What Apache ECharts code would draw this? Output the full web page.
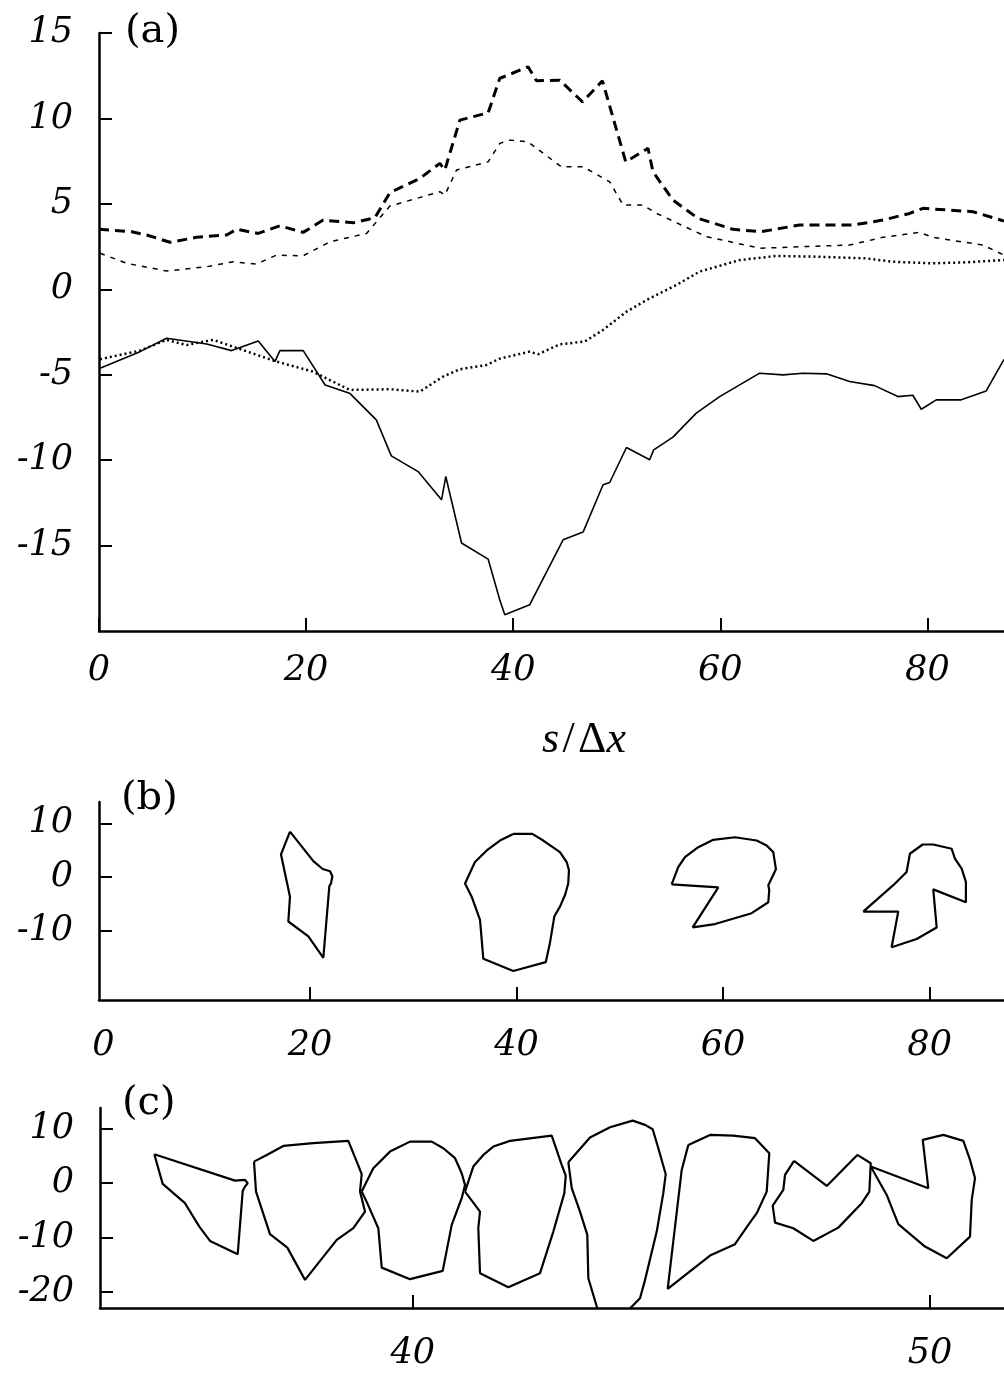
<!DOCTYPE html>
<html>
<head>
<meta charset="utf-8">
<script src="https://cdn.jsdelivr.net/npm/echarts@6/dist/echarts.min.js"></script>
<style>
html,body{margin:0;padding:0;background:#fff;}
#c{width:1004px;height:1375px;}
</style>
</head>
<body>
<div id="c"></div>
<script>
// ---------- Panel (a) data: [s/Δx, value] ----------
const heavyDashed = [[0,3.51],[3.16,3.37],[4.6,3.18],[6.85,2.75],[9.43,3.04],[12.33,3.18],[13.29,3.51],[15.38,3.27],[17.47,3.72],[19.72,3.33],[21.65,4.05],[24.55,3.89],[26.64,4.19],[28.09,5.65],[30.98,6.49],[32.92,7.37],[33.4,6.98],[34.85,9.9],[37.58,10.33],[38.7,12.34],[41.44,13.02],[42.25,12.2],[44.5,12.24],[46.69,10.97],[48.62,12.2],[50.87,7.46],[53.02,8.25],[53.5,6.88],[55.43,5.22],[57.85,4.15],[61.23,3.51],[63.97,3.37],[67.66,3.76],[72.81,3.76],[75.7,4.05],[78.28,4.44],[79.57,4.74],[84.4,4.54],[87.4,4.0]];
const thinDashed = [[0.1,2.11],[2.67,1.52],[6.53,1.07],[10.4,1.32],[12.96,1.61],[15.2,1.48],[17.14,2.0],[19.72,1.96],[22.3,2.78],[25.84,3.27],[28.09,4.87],[32.92,5.71],[33.4,5.51],[34.53,6.98],[37.58,7.46],[38.71,8.54],[39.67,8.73],[41.44,8.63],[42.25,8.25],[44.66,7.17],[46.75,7.17],[49.32,6.29],[50.61,4.93],[52.54,4.93],[53.84,4.44],[58.66,3.08],[63.87,2.4],[67.66,2.49],[72.49,2.59],[75.7,3.04],[79.25,3.33],[80.53,3.04],[85.36,2.59],[87.4,2.0]];
const dotted = [[0.1,-4.09],[3.96,-3.59],[6.53,-2.96],[8.46,-3.26],[11.03,-2.96],[12.96,-3.36],[17.14,-4.23],[20.68,-4.82],[24.2,-5.89],[28.09,-5.85],[30.98,-5.99],[33.23,-5.11],[34.85,-4.68],[37.42,-4.43],[38.7,-4.06],[41.6,-3.65],[42.4,-3.8],[44.5,-3.22],[46.9,-3.06],[48.68,-2.38],[50.94,-1.31],[52.87,-0.63],[55.76,0.25],[57.98,1.03],[61.87,1.71],[65.41,1.95],[69.27,1.91],[74.1,1.81],[76.67,1.61],[80.53,1.52],[83.75,1.58],[87.4,1.71]];
const solid = [[0.1,-4.62],[3.96,-3.65],[6.53,-2.87],[10.4,-3.2],[12.81,-3.59],[15.38,-3.02],[16.99,-4.23],[17.47,-3.59],[19.72,-3.59],[21.84,-5.6],[24.2,-6.08],[26.78,-7.64],[28.23,-9.75],[30.82,-10.67],[33.08,-12.32],[33.49,-10.96],[35.01,-14.85],[37.58,-15.79],[38.7,-18.17],[39.19,-19.05],[41.6,-18.46],[44.82,-14.66],[46.75,-14.21],[48.68,-11.44],[49.32,-11.31],[50.94,-9.26],[53.18,-9.98],[53.57,-9.4],[55.43,-8.65],[57.68,-7.25],[59.94,-6.28],[63.8,-4.91],[66.05,-5.01],[67.98,-4.91],[70.24,-4.95],[72.49,-5.4],[74.9,-5.64],[77.15,-6.28],[78.6,-6.2],[79.41,-7.02],[80.86,-6.47],[83.27,-6.47],[85.68,-5.95],[87.4,-4.1]];

// ---------- Panel (b) outlines ----------
const b1 = [[18.07,8.46],[20.33,2.96],[21.24,1.48],[21.95,1.06],[22.17,0.13],[22.04,-1.22],[21.88,-1.72],[21.3,-15.11],[19.85,-11.11],[17.91,-8.33],[18.07,-3.7],[17.2,4.2]];
const b2 = [[39.69,8.04],[41.53,8.04],[42.59,6.8],[44.21,4.63],[44.86,2.78],[45.08,1.24],[45.01,-1.22],[44.7,-3.39],[44.21,-5.56],[43.66,-7.41],[43.24,-12.33],[42.83,-15.93],[39.69,-17.59],[36.79,-15.3],[36.47,-8.02],[35.66,-3.7],[35.02,-1.22],[35.98,2.78],[37.12,4.94],[38.4,6.8]];
const b3 = [[55.02,-1.41],[59.54,-1.96],[57.06,-9.44],[59.22,-8.81],[62.77,-6.78],[64.38,-4.74],[64.47,-2.46],[64.38,-1.54],[65.12,1.43],[64.86,4.63],[64.22,5.87],[63.25,6.8],[61.15,7.41],[59.05,6.93],[57.6,5.56],[56.31,3.7],[55.66,1.85]];
const b4 = [[73.57,-6.48],[76.96,-6.48],[76.32,-13.15],[78.74,-11.59],[80.68,-9.44],[80.35,-2.33],[83.51,-4.74],[83.51,-0.93],[83.1,1.56],[82.45,3.41],[82.13,5.26],[80.35,6.06],[79.32,6.06],[78.09,4.33],[77.77,0.93],[76.48,-1.54]];

// ---------- Panel (c) outlines ----------
const c1 = [[35.005,5.32],[36.565,0.48],[36.758,0.61],[36.81,0],[36.758,-0.62],[36.714,-1.41],[36.617,-13.03],[36.082,-10.59],[35.875,-7.96],[35.598,-3.67],[35.167,-0.13]];
const c2 = [[36.932,3.96],[37.178,5.19],[37.499,6.84],[38.078,7.34],[38.755,7.76],[38.904,4.28],[39.014,1.65],[38.981,-1.54],[39.078,-5.21],[38.852,-8.26],[38.531,-10.4],[37.918,-17.74],[37.576,-11.82],[37.241,-9.36],[36.971,-1.54]];
const c3 = [[39.014,-1.54],[39.238,2.75],[39.561,5.8],[39.948,7.63],[40.367,7.63],[40.592,6.42],[40.818,4.59],[40.947,1.83],[41.011,-0.31],[40.947,-2.75],[40.754,-7.65],[40.58,-16.09],[39.948,-17.61],[39.401,-15.49],[39.335,-8.26],[39.111,-3.43]];
const c4 = [[41.011,-1.54],[41.171,3.05],[41.365,5.19],[41.558,6.72],[41.881,7.76],[42.687,8.73],[42.88,3.36],[42.958,1.39],[42.931,-1.83],[42.718,-8.88],[42.461,-16.51],[41.848,-19.08],[41.301,-16.51],[41.268,-8.26],[41.301,-5.21]];
const c5 = [[43.008,3.85],[43.427,8.37],[43.814,10.28],[44.253,11.49],[44.491,10.7],[44.639,9.91],[44.748,6.42],[44.891,1.65],[44.844,-1.83],[44.717,-8.88],[44.491,-17.74],[44.394,-21.1],[44.137,-23.6],[43.588,-23.6],[43.395,-17.43],[43.375,-9.49],[43.234,-5.21],[43.074,-0.92]];
const c6 = [[45.328,7.03],[45.747,8.86],[46.198,8.73],[46.617,8.26],[46.893,5.5],[46.843,-1.54],[46.65,-5.5],[46.487,-7.65],[46.23,-11.19],[45.747,-13.28],[44.929,-19.39],[45.2,2.44]];
const c7 = [[47.371,4.09],[48.003,-0.5],[48.595,5.19],[48.854,3.67],[48.827,-1.54],[48.68,-3.67],[48.227,-8.15],[47.744,-10.59],[47.357,-8.26],[47.004,-7.23],[46.959,-4.11],[47.164,-1.23],[47.197,1.52]];
const c8 = [[48.854,3.05],[49.967,-0.92],[49.859,7.94],[50.257,8.86],[50.644,7.76],[50.773,4.28],[50.87,0.92],[50.806,-3.06],[50.773,-9.8],[50.323,-13.76],[49.903,-11.63],[49.387,-7.52],[49.163,-2.15]];

// ---------- Tick labels ----------
const aYTicks = [-15,-10,-5,0,5,10,15];
const aXTicks = [0,20,40,60,80];
const bYTicks = [-10,0,10];
const bXTicks = [0,20,40,60,80];
const bXTickMarks = [20,40,60,80];
const cYTicks = [-20,-10,0,10];
const cXTicks = [40,50];

const closeLoop = pts => pts.concat([pts[0]]);

const labelFont = {fontFamily:'DejaVu Serif', fontStyle:'italic', fontSize:35, color:'#000'};
const axLine = {show:true, onZero:false, lineStyle:{color:'#000', width:2.5}};

function xAx(gi, min, max, labels, marks, margin){
  return {type:'value', gridIndex:gi, min:min, max:max,
    axisLine:axLine,
    axisTick:{show:true, inside:true, length:13, lineStyle:{color:'#000', width:2}, customValues:marks},
    axisLabel:Object.assign({margin:margin, customValues:labels}, labelFont),
    splitLine:{show:false}};
}
function yAx(gi, min, max, ticks){
  return {type:'value', gridIndex:gi, min:min, max:max,
    axisLine:axLine,
    axisTick:{show:true, inside:true, length:13, lineStyle:{color:'#000', width:2}, customValues:ticks},
    axisLabel:Object.assign({margin:26, customValues:ticks}, labelFont),
    splitLine:{show:false}};
}
function outline(data, xi){
  return {type:'line', xAxisIndex:xi, yAxisIndex:xi, data:closeLoop(data), showSymbol:false, symbol:'none',
    lineStyle:{color:'#000', width:2.2}, clip:true, animation:false, silent:true};
}

const chart = echarts.init(document.getElementById('c'), null, {renderer:'canvas'});
chart.setOption({
  backgroundColor:'#fff',
  animation:false,
  grid:[
    {left:99, top:33, right:0, height:598},
    {left:99, top:802, right:0, height:198},
    {left:100, top:1108, right:0, height:200}
  ],
  xAxis:[
    xAx(0, 0, 87.4, aXTicks, aXTicks, 22),
    xAx(1, -0.42, 87.2, bXTicks, bXTickMarks, 28),
    xAx(2, 33.955, 51.43, cXTicks, cXTicks, 28)
  ],
  yAxis:[
    yAx(0, -20, 15, aYTicks),
    yAx(1, -23, 14, bYTicks),
    yAx(2, -22.9, 13.8, cYTicks)
  ],
  series:[
    {type:'line', xAxisIndex:0, yAxisIndex:0, data:heavyDashed, symbol:'none',
      lineStyle:{color:'#000', width:3, type:[10,6]}},
    {type:'line', xAxisIndex:0, yAxisIndex:0, data:thinDashed, symbol:'none',
      lineStyle:{color:'#000', width:1.5, type:[5,6]}},
    {type:'line', xAxisIndex:0, yAxisIndex:0, data:dotted, symbol:'none',
      lineStyle:{color:'#000', width:2.5, type:[2,3]}},
    {type:'line', xAxisIndex:0, yAxisIndex:0, data:solid, symbol:'none',
      lineStyle:{color:'#000', width:1.6}},
    outline(b1,1), outline(b2,1), outline(b3,1), outline(b4,1),
    outline(c1,2), outline(c2,2), outline(c3,2), outline(c4,2),
    outline(c5,2), outline(c6,2), outline(c7,2), outline(c8,2)
  ],
  graphic:[
    {type:'text', left:125, top:12, style:{text:'(a)', font:'40px "DejaVu Serif"', fill:'#000'}},
    {type:'text', left:121, top:779, style:{text:'(b)', font:'40px "DejaVu Serif"', fill:'#000'}},
    {type:'text', left:122, top:1084, style:{text:'(c)', font:'40px "DejaVu Serif"', fill:'#000'}},
    {type:'text', x:584, y:740, style:{
      text:'{i|s} {n|/} {n|Δ}{i|x}', align:'center', verticalAlign:'middle',
      rich:{
        i:{fontFamily:'Liberation Serif', fontStyle:'italic', fontSize:44, fill:'#000'},
        n:{fontFamily:'Liberation Serif', fontSize:44, fill:'#000'}
      }}}
  ]
});
</script>
</body>
</html>
